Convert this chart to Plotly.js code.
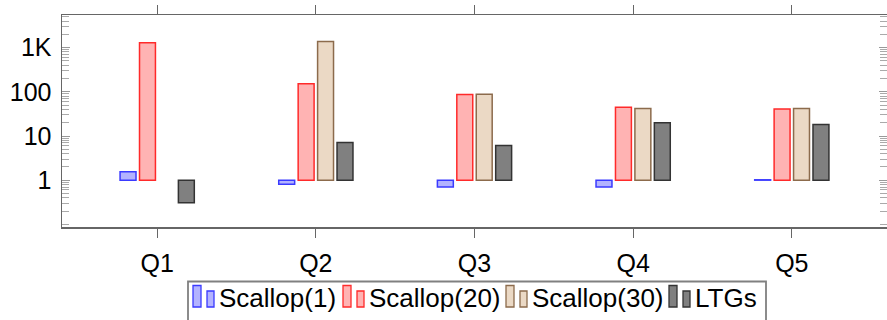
<!DOCTYPE html>
<html>
<head>
<meta charset="utf-8">
<script src="https://cdn.plot.ly/plotly-3.0.1.min.js"></script>
<style>html,body{margin:0;padding:0;background:#fff;}#chart{width:887px;height:320px;}</style>
</head>
<body>
<div id="chart"></div>
<script>
const categories = ["Q1", "Q2", "Q3", "Q4", "Q5"];
const seriesNames = ["Scallop(1)", "Scallop(20)", "Scallop(30)", "LTGs"];
const scallop1  = [1.55, 0.81, 0.70, 0.70, 1.02];
const scallop20 = [1300, 152, 87, 45, 41];
const scallop30 = [null, 1390, 88, 42, 42];
const ltgs      = [0.31, 7.1, 6.1, 20, 18.3];
const yTickVals = [1, 10, 100, 1000];
const yTickText = ["1", "10", "100", "1K"];

const fills = ["#b3b3ff", "#ffb3b3", "#ebd9c5", "#808080"];
const edges = ["#3a3aff", "#ff2a2a", "#8c6b4c", "#333333"];

const BASE = 1;
function series(i, vals) {
  return {
    type: "bar",
    name: seriesNames[i],
    x: categories,
    y: vals.map(v => v == null ? null : v - BASE),
    base: BASE,
    marker: {color: fills[i], line: {color: edges[i], width: 1.5}},
    hoverinfo: "skip",
    showlegend: false
  };
}

const data = [
  series(0, scallop1),
  series(1, scallop20),
  series(2, scallop30),
  series(3, ltgs)
];

const W = 887, H = 320;
const M = {l: 62, r: 0, t: 15, b: 93};
const plotW = W - M.l - M.r, plotH = H - M.t - M.b;
const px2x = p => (p - M.l) / plotW;
const py2y = p => (H - M.b - p) / plotH;

const fontFam = "Liberation Sans, Arial, Helvetica, sans-serif";
const font = {family: fontFam, size: 25, color: "#000"};
const legendFont = {family: fontFam, size: 26, color: "#000"};

// custom pgfplots-style legend
const legendBox = {x0: 188, x1: 766, y0: 281.5, y1: 330};
const symStarts = [193, 343, 506, 669];
const shapes = [{
  type: "rect", xref: "paper", yref: "paper",
  x0: px2x(legendBox.x0), x1: px2x(legendBox.x1),
  y0: py2y(legendBox.y0), y1: py2y(legendBox.y1),
  line: {color: "#808080", width: 1.8}, fillcolor: "#fff", layer: "above"
}];
const annotations = [];
seriesNames.forEach((name, i) => {
  const sx = symStarts[i];
  shapes.push({
    type: "rect", xref: "paper", yref: "paper",
    x0: px2x(sx), x1: px2x(sx + 8), y0: py2y(307), y1: py2y(285.5),
    line: {color: edges[i], width: 1.3}, fillcolor: fills[i], layer: "above"
  });
  shapes.push({
    type: "rect", xref: "paper", yref: "paper",
    x0: px2x(sx + 14), x1: px2x(sx + 21), y0: py2y(307), y1: py2y(291),
    line: {color: edges[i], width: 1.3}, fillcolor: fills[i], layer: "above"
  });
  annotations.push({
    xref: "paper", yref: "paper",
    x: px2x(sx + 25), y: py2y(298),
    xanchor: "left", yanchor: "middle",
    text: name, showarrow: false, font: legendFont, borderpad: 0
  });
});

const layout = {
  width: W, height: H,
  margin: M,
  paper_bgcolor: "#fff", plot_bgcolor: "#fff",
  font: font,
  barmode: "group",
  bargap: 0.51,
  bargroupgap: 0.18,
  showlegend: false,
  shapes: shapes,
  annotations: annotations,
  xaxis: {
    type: "category",
    range: [-0.6, 4.6],
    showline: true, linecolor: "#666", linewidth: 1.5,
    mirror: "ticks",
    ticks: "outside", ticklen: 9, tickcolor: "#666", tickwidth: 1,
    ticklabelstandoff: 4,
    showgrid: false, zeroline: false,
    tickfont: font
  },
  yaxis: {
    type: "log",
    range: [Math.log10(0.087), Math.log10(5500)],
    showline: true, linecolor: "#666", linewidth: 1.5,
    mirror: "ticks",
    ticks: "inside", ticklen: 8, tickcolor: "#999", tickwidth: 1,
    tickvals: yTickVals, ticktext: yTickText,
    ticklabelstandoff: 4,
    minor: {ticks: "inside", ticklen: 7, tickcolor: "#aaa", tickwidth: 1, dtick: "D1", showgrid: false},
    showgrid: false, zeroline: false,
    tickfont: font
  }
};

Plotly.newPlot("chart", data, layout, {staticPlot: true, displayModeBar: false});
</script>
</body>
</html>
